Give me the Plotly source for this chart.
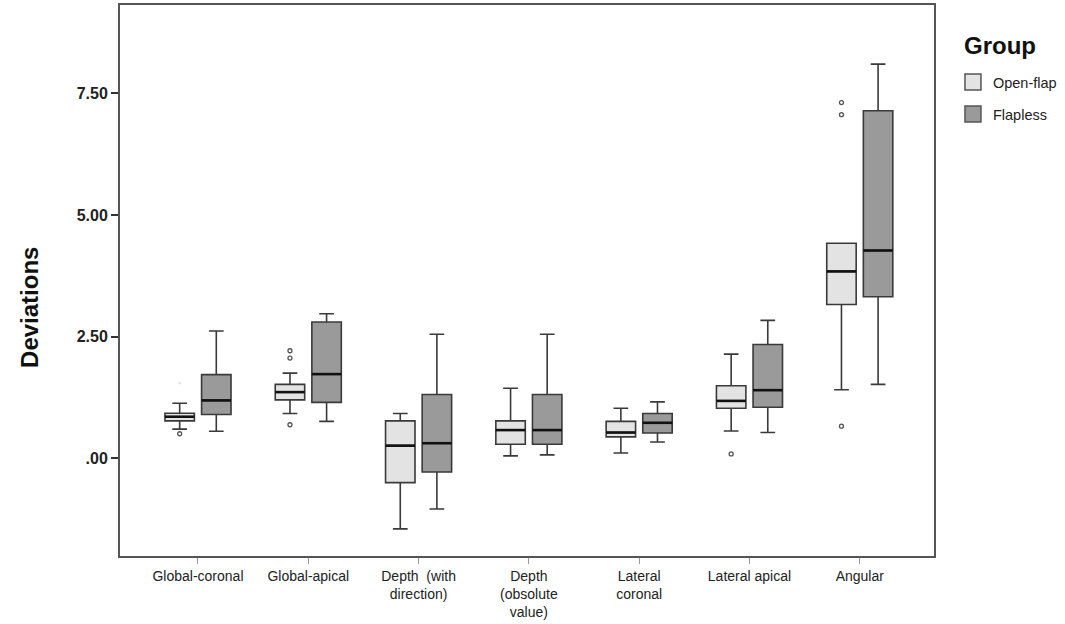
import plotly.graph_objects as go

categories = ["Global-coronal", "Global-apical", "Depth  (with<br>direction)",
              "Depth<br>(obsolute<br>value)", "Lateral<br>coronal", "Lateral apical", "Angular"]

# Open-flap box statistics
open_q1 = [0.77, 1.20, -0.50, 0.29, 0.44, 1.03, 3.16]
open_med = [0.855, 1.36, 0.26, 0.58, 0.53, 1.18, 3.84]
open_q3 = [0.925, 1.52, 0.77, 0.77, 0.76, 1.49, 4.42]
open_lo = [0.60, 0.92, -1.45, 0.05, 0.11, 0.56, 1.41]
open_hi = [1.13, 1.75, 0.92, 1.44, 1.03, 2.14, 4.42]
open_out_cat = [0, 1, 1, 1, 5, 6, 6, 6]
open_out_val = [0.505, 2.21, 2.06, 0.69, 0.09, 7.31, 7.06, 0.66]
open_faint_cat = [0]
open_faint_val = [1.55]

# Flapless box statistics
flap_q1 = [0.90, 1.15, -0.28, 0.29, 0.52, 1.05, 3.32]
flap_med = [1.19, 1.73, 0.31, 0.58, 0.73, 1.40, 4.27]
flap_q3 = [1.72, 2.80, 1.31, 1.31, 0.92, 2.34, 7.14]
flap_lo = [0.555, 0.76, -1.04, 0.07, 0.335, 0.53, 1.52]
flap_hi = [2.615, 2.97, 2.55, 2.55, 1.16, 2.835, 8.10]

y_tickvals = [0, 2.5, 5, 7.5]
y_ticktext = [".00", "2.50", "5.00", "7.50"]

OFF = 0.166
BW = 0.267
pos = list(range(len(categories)))
line_col = "#3a3a3a"
open_fill = "#e3e3e3"
flap_fill = "#9a9a9a"


def median_segments(offset, meds):
    xs, ys = [], []
    for p, m in zip(pos, meds):
        xs += [p + offset - BW / 2, p + offset + BW / 2, None]
        ys += [m, m, None]
    return xs, ys


fig = go.Figure()
fig.add_trace(go.Box(
    name="Open-flap", x=[p - OFF for p in pos], showlegend=False,
    q1=open_q1, median=open_med, q3=open_q3, lowerfence=open_lo, upperfence=open_hi,
    width=BW, whiskerwidth=0.5, fillcolor=open_fill,
    line=dict(color=line_col, width=1.6), boxpoints=False, hoverinfo="skip"))
fig.add_trace(go.Box(
    name="Flapless", x=[p + OFF for p in pos], showlegend=False,
    q1=flap_q1, median=flap_med, q3=flap_q3, lowerfence=flap_lo, upperfence=flap_hi,
    width=BW, whiskerwidth=0.5, fillcolor=flap_fill,
    line=dict(color=line_col, width=1.6), boxpoints=False, hoverinfo="skip"))

for off, meds in ((-OFF, open_med), (OFF, flap_med)):
    mx, my = median_segments(off, meds)
    fig.add_trace(go.Scatter(x=mx, y=my, mode="lines", showlegend=False, hoverinfo="skip",
                             line=dict(color="#111111", width=2.6)))

fig.add_trace(go.Scatter(
    x=[c - OFF for c in open_out_cat], y=open_out_val, mode="markers", showlegend=False,
    marker=dict(symbol="circle-open", size=4, color="#555555", line=dict(width=1.3))))
fig.add_trace(go.Scatter(
    x=[c - OFF for c in open_faint_cat], y=open_faint_val, mode="markers", showlegend=False,
    marker=dict(symbol="circle", size=3, color="#e6e6e6")))

# legend swatches
for nm, col in (("Open-flap", open_fill), ("Flapless", flap_fill)):
    fig.add_trace(go.Scatter(
        x=[None], y=[None], mode="markers", name=nm, legendgroup=nm,
        marker=dict(symbol="square", size=20, color=col, line=dict(color="#555555", width=1.5))))

fig.add_annotation(
    text="Deviations", textangle=-90, xref="paper", yref="paper",
    x=-0.1106, y=0.452, xanchor="center", yanchor="middle", showarrow=False,
    font=dict(size=24, weight="bold", color="#111111"))
fig.add_annotation(
    text="Group", xref="paper", yref="paper",
    x=1.0344, y=0.9274, xanchor="left", yanchor="middle", showarrow=False,
    font=dict(size=24, weight="bold", color="#111111"))

fig.update_layout(
    width=1065, height=624,
    margin=dict(l=120, r=131, t=5, b=68, autoexpand=False),
    plot_bgcolor="white", paper_bgcolor="white",
    boxmode="overlay",
    font=dict(family="Liberation Sans, Arial, sans-serif", color="#222222"),
    legend=dict(
        x=1.0233, xanchor="left", y=0.889, yanchor="top",
        font=dict(size=14.5, color="#222222"), tracegroupgap=10, itemsizing="trace",
    ),
    xaxis=dict(
        range=[-0.707, 6.673], tickmode="array", tickvals=pos, ticktext=categories,
        showline=True, mirror=True, linecolor="#555555", linewidth=2,
        ticks="outside", ticklen=6, tickcolor="#999999", tickwidth=1,
        tickfont=dict(size=14, color="#222222"), showgrid=False, zeroline=False,
    ),
    yaxis=dict(
        range=[-2.007, 9.314], tickmode="array", tickvals=y_tickvals, ticktext=y_ticktext,
        showline=True, mirror=True, linecolor="#555555", linewidth=2,
        ticks="outside", ticklen=7, tickcolor="#333333", tickwidth=2,
        tickfont=dict(size=16, weight="bold", color="#222222"),
        showgrid=False, zeroline=False,
    ),
)

fig.write_html("out.html", config={"displayModeBar": False},
               post_script="document.body.style.margin='0';")
